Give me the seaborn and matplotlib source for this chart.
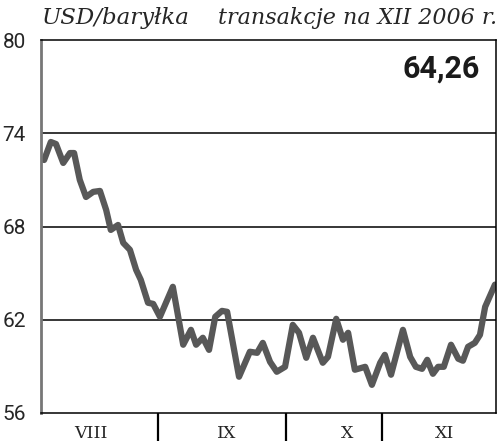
import matplotlib
matplotlib.use("Agg")
import matplotlib.pyplot as plt
import seaborn as sns
import pandas as pd

# session index (approx. trading days from 1 Aug 2006) and price in USD/bbl
sessions = [0.6, 1.9, 2.9, 4.3, 5.6, 6.4, 7.5, 8.7, 10.1, 11.4,
            12.6, 13.5, 14.9, 15.9, 17.2, 18.4, 19.3, 20.7, 21.7, 23.0,
            25.5, 27.5, 29.0, 30.0, 31.3, 32.5, 33.7, 35.0, 36.0, 38.3,
            40.4, 41.8, 42.9, 44.3, 45.6, 47.2, 48.7, 49.9, 51.3, 52.6,
            54.5, 55.5, 57.1, 58.4, 59.4, 60.7, 62.7, 64.0, 65.6, 66.5,
            67.7, 70.0, 71.4, 72.5, 73.7, 74.7, 75.8, 76.8, 77.9, 79.3,
            80.7, 81.6, 82.6, 83.9, 84.9, 85.9, 87.8]
prices = [72.28, 73.44, 73.31, 72.09, 72.73, 72.73, 71.00, 69.90, 70.23, 70.29,
          69.07, 67.78, 68.10, 66.95, 66.50, 65.21, 64.57, 63.09, 63.02, 62.19,
          64.12, 60.39, 61.35, 60.39, 60.84, 60.06, 62.19, 62.57, 62.51, 58.33,
          59.94, 59.87, 60.51, 59.29, 58.65, 58.97, 61.67, 61.16, 59.55, 60.84,
          59.23, 59.61, 62.06, 60.71, 61.16, 58.78, 58.97, 57.81, 59.23, 59.74,
          58.46, 61.35, 59.61, 58.97, 58.84, 59.42, 58.52, 58.97, 58.97, 60.39,
          59.49, 59.36, 60.26, 60.51, 61.03, 62.83, 64.26]

month_labels = ["VIII", "IX", "X", "XI"]
month_label_pos = [9.6, 35.9, 59.2, 78.1]
month_bounds = [22.6, 47.4, 66.0]
y_ticks = [56, 62, 68, 74, 80]
last_value = "64,26"

df = pd.DataFrame({"session": sessions, "price": prices})

sns.set_style("white")
fig = plt.figure(figsize=(5, 4.45), dpi=100)
ax = fig.add_axes([0.082, 0.072, 0.910, 0.838])

sns.lineplot(data=df, x="session", y="price", color="#585858", linewidth=4.5,
             ax=ax, solid_joinstyle="round", solid_capstyle="round")

ax.set_xlim(0, 88)
ax.set_ylim(56, 80)
ax.set_yticks(y_ticks)
ax.set_yticklabels([str(t) for t in y_ticks], fontfamily="Roboto", fontsize=15)
for t in [62, 68, 74]:
    ax.axhline(t, color="black", linewidth=1.1, zorder=0)

ax.set_xticks(month_label_pos)
ax.set_xticklabels(month_labels, fontfamily="DejaVu Serif", fontsize=12.5)
ax.set_xticks(month_bounds, minor=True)
ax.tick_params(axis="x", which="major", length=0, pad=9)
ax.tick_params(axis="x", which="minor", bottom=True, direction="out",
               length=20, width=1.6, color="black")
ax.tick_params(axis="y", length=0, pad=11)
ax.set_xlabel("")
ax.set_ylabel("")

ax.spines["left"].set_color("#777777")
ax.spines["left"].set_linewidth(2)
for s in ["top", "right", "bottom"]:
    ax.spines[s].set_color("black")
    ax.spines[s].set_linewidth(1.1)

ax.text(0.965, 0.965, last_value, transform=ax.transAxes, ha="right", va="top",
        fontfamily="Roboto", fontweight="bold", fontsize=22, color="#1a1a1a")

fig.text(0.084, 0.945, "USD/baryłka", fontfamily="DejaVu Serif",
         fontstyle="italic", fontsize=16.5, ha="left", va="baseline")
fig.text(0.994, 0.945, "transakcje na XII 2006 r.", fontfamily="DejaVu Serif",
         fontstyle="italic", fontsize=16, ha="right", va="baseline")

fig.savefig("out.png", dpi=100)
